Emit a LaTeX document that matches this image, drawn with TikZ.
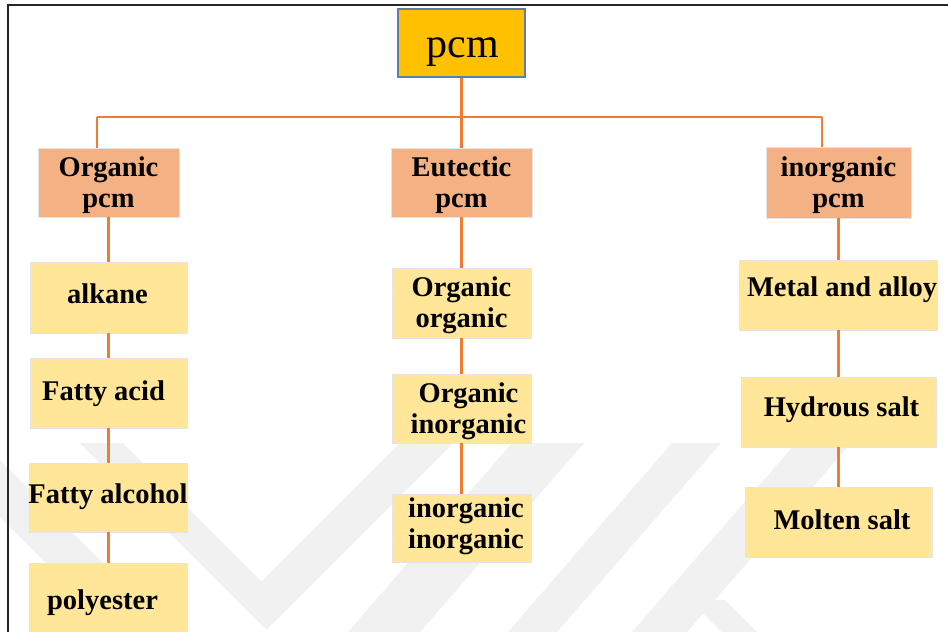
\documentclass[tikz,border=0pt]{standalone}
\usepackage{fontspec}
\setmainfont{Liberation Serif}
\definecolor{linkorange}{HTML}{ED7D31}
\definecolor{topgold}{HTML}{FFC000}
\definecolor{topedge}{HTML}{5B7FA6}
\definecolor{salmon}{HTML}{F4B183}
\definecolor{paleyellow}{HTML}{FFE699}
\definecolor{boxedge}{HTML}{E4E4E4}
\definecolor{wmgray}{HTML}{F1F1F1}
\tikzset{
  box/.style={draw=boxedge, line width=0.9pt, inner sep=0pt},
  catbox/.style={box, fill=salmon},
  itembox/.style={box, fill=paleyellow},
  lbl/.style={font=\bfseries\fontsize{28.5}{31}\selectfont, inner sep=0pt, align=center},
  conn/.style={draw=linkorange, line width=2.1pt},
  band/.style={fill=wmgray, draw=none},
}
\begin{document}
\begin{tikzpicture}[x=1pt, y=-1pt]
  \useasboundingbox (0,0) rectangle (948,632);
  \clip (0,0) rectangle (948,632);
  \fill[white] (0,0) rectangle (948,632);

  % faint logo stripes in the background
  \fill[band] (0,460) -- (172,632) -- (115,632) -- (0,517) -- cycle;
  \fill[band] (80,443) -- (123,443) -- (261.5,581.5) -- (400,443) -- (453,443) -- (266.5,629.5) -- cycle;
  \fill[band] (512,443) -- (584,443) -- (420,632) -- (348,632) -- cycle;
  \fill[band] (672,443) -- (721,443) -- (557,632) -- (508,632) -- cycle;
  \fill[band] (796,443) -- (851,443) -- (687,632) -- (632,632) -- cycle;
  \fill[band] (690,600) -- (725,600) -- (757,632) -- (722,632) -- cycle;

  % frame
  \draw[line width=2pt, black!85] (8.3,640) -- (8.3,5.2) -- (960,5.2);

  % root
  \node[draw=topedge, line width=1.2pt, fill=topgold, inner sep=0pt,
        minimum width=127pt, minimum height=68pt] (pcm) at (461.5,43) {};
  \node[font=\fontsize{42}{46}\selectfont, inner sep=0pt, anchor=base] (pcm-t) at (463,57) {pcm};

  % categories
  \node[catbox, minimum width=141pt, minimum height=69pt] (org) at (108.5,182.5) {};
  \node[catbox, minimum width=141pt, minimum height=69pt] (eut) at (461.5,182.5) {};
  \node[catbox, minimum width=145pt, minimum height=71pt] (inorg) at (838.5,182.5) {};
  \node[lbl] (org-t) at (108.5,185) {Organic\\pcm};
  \node[lbl] (eut-t) at (461.5,185) {Eutectic\\pcm};
  \node[lbl] (inorg-t) at (838.5,185) {inorganic\\pcm};

  % organic column
  \node[itembox, minimum width=157pt, minimum height=71pt] (alkane) at (108.5,297.5) {};
  \node[itembox, minimum width=157pt, minimum height=70pt] (facid) at (108.5,393) {};
  \node[itembox, minimum width=158pt, minimum height=69pt] (falc) at (108.5,497.5) {};
  \node[itembox, minimum width=158pt, minimum height=77pt] (poly) at (108.5,601.5) {};
  \node[lbl, anchor=base] (alkane-t) at (107.5,303) {alkane};
  \node[lbl, anchor=base] (facid-t) at (103.5,400) {Fatty acid};
  \node[lbl, anchor=base] (falc-t) at (108,503) {Fatty alcohol};
  \node[lbl, anchor=base] (poly-t) at (102.5,609) {polyester};

  % eutectic column
  \node[itembox, minimum width=139pt, minimum height=70pt] (oo) at (461.5,303) {};
  \node[itembox, minimum width=139pt, minimum height=69pt] (oi) at (461.5,408.5) {};
  \node[itembox, minimum width=139pt, minimum height=68pt] (ii) at (461.5,528) {};
  \node[lbl] (oo-t) at (461.5,305) {Organic\\organic};
  \node[lbl] (oi-t) at (468.5,411) {Organic\\inorganic};
  \node[lbl] (ii-t) at (466,526) {inorganic\\inorganic};

  % inorganic column
  \node[itembox, minimum width=198pt, minimum height=70pt] (metal) at (838.5,295) {};
  \node[itembox, minimum width=195pt, minimum height=70pt] (hyd) at (838.5,412) {};
  \node[itembox, minimum width=187pt, minimum height=70pt] (molten) at (838.5,522) {};
  \node[lbl, anchor=base] (metal-t) at (842,296) {Metal and alloy};
  \node[lbl, anchor=base] (hyd-t) at (841.5,416) {Hydrous salt};
  \node[lbl, anchor=base] (molten-t) at (842,529) {Molten salt};

  % tree connectors
  \coordinate (hub) at (461.5,117);
  \coordinate (jl) at (97,117);
  \coordinate (jr) at (822,117);
  \draw[conn] (pcm.south) -- (hub);
  \draw[conn] (jl) -- (jr);
  \draw[conn] (jl) -- (jl |- org.north);
  \draw[conn] (hub) -- (eut.north);
  \draw[conn] (jr) -- (jr |- inorg.north);

  \draw[conn] (org.south) -- (alkane.north);
  \draw[conn] (alkane.south) -- (facid.north);
  \draw[conn] (facid.south) -- (falc.north);
  \draw[conn] (falc.south) -- (poly.north);

  \draw[conn] (eut.south) -- (oo.north);
  \draw[conn] (oo.south) -- (oi.north);
  \draw[conn] (oi.south) -- (ii.north);

  \draw[conn] (inorg.south) -- (metal.north);
  \draw[conn] (metal.south) -- (hyd.north);
  \draw[conn] (hyd.south) -- (molten.north);
\end{tikzpicture}
\end{document}
